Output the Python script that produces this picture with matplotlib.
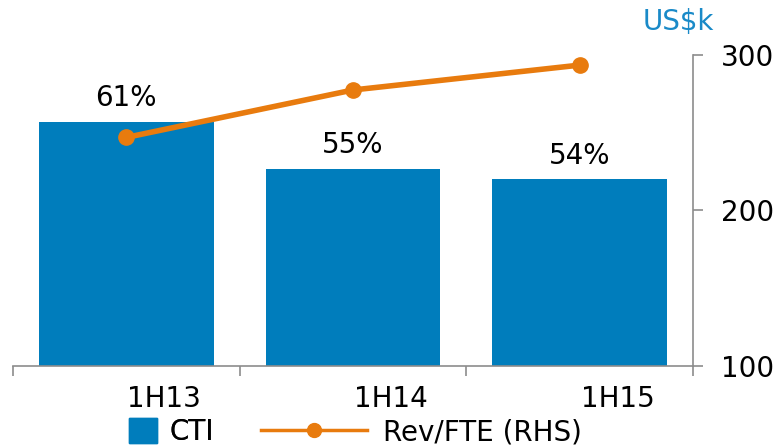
# CTI (столбики) и Rev/FTE (линия, правая ось)
import numpy as np
import matplotlib.pyplot as plt
from matplotlib.patches import Patch
from matplotlib.lines import Line2D
from matplotlib.transforms import ScaledTranslation

# данные
periods = ["1H13", "1H14", "1H15"]
cti = [61.4, 55.4, 54.0]          # %
cti_labels = ["61%", "55%", "54%"]
rev_fte = [247, 277.5, 293.5]     # US$k

blue = "#007dbc"
orange = "#e87b0e"
grey = "#8c8c8c"

plt.rcParams["font.family"] = "DejaVu Sans"
plt.rcParams["font.size"] = 20

fig = plt.figure(figsize=(7.78, 4.48), dpi=100)
ax = fig.add_axes([13 / 778, 1 - 366 / 448, 680 / 778, 311 / 448])
x = np.arange(len(periods))

# столбики CTI
bars = ax.bar(x, [v - 30 for v in cti], bottom=30, width=0.77, color=blue, zorder=2)
for b, lab in zip(bars, cti_labels):
    ax.annotate(lab, (b.get_x() + b.get_width() / 2, b.get_y() + b.get_height()),
                xytext=(0, 7), textcoords="offset points", ha="center", va="bottom", fontsize=20)
ax.set_ylim(30, 70)
ax.set_xlim(-0.5, len(periods) - 0.5)
ax.set_yticks([])
for s in ["top", "left", "right"]:
    ax.spines[s].set_visible(False)
ax.spines["bottom"].set_color(grey)
ax.spines["bottom"].set_linewidth(1.2)

# подписи категорий и отметки между ними
ax.set_xticks(x)
ax.set_xticklabels(periods)
ax.tick_params(axis="x", which="major", length=0, pad=14)
off = ScaledTranslation(38 / 100, 0, fig.dpi_scale_trans)
for t in ax.get_xticklabels():
    t.set_transform(t.get_transform() + off)
ax.set_xticks(np.arange(-0.5, len(periods), 1.0), minor=True)
ax.tick_params(axis="x", which="minor", length=7, width=1.2, color=grey, direction="out")

# линия Rev/FTE на правой оси
ax2 = ax.twinx()
ax2.plot(x, rev_fte, color=orange, linewidth=4, marker="o", markersize=11, zorder=3)
ax2.set_ylim(100, 300)
ax2.set_yticks([100, 200, 300])
for s in ["top", "left", "bottom"]:
    ax2.spines[s].set_visible(False)
ax2.spines["right"].set_color(grey)
ax2.spines["right"].set_linewidth(1.2)
ax2.tick_params(axis="y", length=7, width=1.2, color=grey, pad=13, labelsize=20)
fig.text(678 / 778, 1 - 22 / 448, "US$k", color="#1a8ac8", fontsize=20, ha="center", va="center")

# легенда
leg1 = fig.legend(handles=[Patch(color=blue, label="CTI")], loc="center left",
                  bbox_to_anchor=(104 / 778, 1 - 432 / 448), frameon=False,
                  handlelength=1.0, handleheight=1.0, handletextpad=0.45, fontsize=20)
fig.legend(handles=[Line2D([0], [0], color=orange, linewidth=2.5, marker="o", markersize=10,
                           label="Rev/FTE (RHS)")],
           loc="center left", bbox_to_anchor=(236 / 778, 1 - 432 / 448), frameon=False,
           handlelength=3.8, handletextpad=0.6, fontsize=20)
fig.add_artist(leg1)

fig.savefig("out.png", dpi=100)
